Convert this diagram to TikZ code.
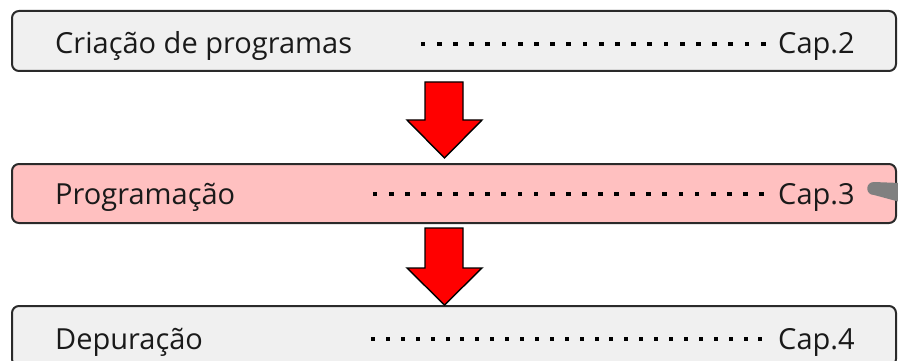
\documentclass[tikz,border=0pt]{standalone}
\usepackage{fontspec}
\setmainfont{Open Sans}
\definecolor{boxgray}{HTML}{F0F0F0}
\definecolor{boxpink}{HTML}{FFC0C0}
\definecolor{edge}{HTML}{2A2A2A}
\definecolor{txt}{HTML}{1A1A1A}
\begin{document}
\begin{tikzpicture}[x=1pt,y=-1pt,
  stepbox/.style={draw=edge, line width=2pt, rounded corners=7pt, minimum width=884pt, inner sep=0pt},
  label/.style={anchor=base west, inner sep=0pt, text=txt, font=\fontsize{29}{29}\selectfont},
  downarrow/.style={fill=red, draw=black, line width=1.4pt, line join=miter}]
\useasboundingbox (0,0) rectangle (898,361);
% boxes
\node[stepbox, fill=boxgray, minimum height=60pt] (b1) at (454,41) {};
\node[stepbox, fill=boxpink, minimum height=59pt] (b2) at (454,193.5) {};
\node[stepbox, fill=boxgray, minimum height=60pt] (b3) at (454,336) {};
% texts
\node[label] (t1) at (55,54) {Criação de programas};
\node[label] (c1) at (778,54) {Cap.2};
\node[label] (t2) at (55,204) {Programação};
\node[label] (c2) at (778,204) {Cap.3};
\node[label] (t3) at (55,349) {Depuração};
\node[label] (c3) at (778,349) {Cap.4};
% dots
\foreach \i in {0,...,21} {\fill[black] ({423+\i*16.2-2.4},{44-2.4}) rectangle ++(4.8,4.8);}
\foreach \i in {0,...,24} {\fill[black] ({375+\i*16.1-2.4},{194-2.4}) rectangle ++(4.8,4.8);}
\foreach \i in {0,...,26} {\fill[black] ({373+\i*14.9-2},{339-2}) rectangle ++(4,4);}
% arrows
\draw[downarrow] (425,82) -- (463,82) -- (463,120) -- (482,120) -- (444.5,158) -- (407,120) -- (425,120) -- cycle;
\draw[downarrow] (425,228) -- (463,228) -- (463,268) -- (482,268) -- (444.5,305) -- (407,268) -- (425,268) -- cycle;
% gray wedge at right of second box
\fill[gray] (900,183) -- (874,182) .. controls (865,182) and (865,195) .. (874,195) -- (900,202) -- cycle;
\end{tikzpicture}
\end{document}
